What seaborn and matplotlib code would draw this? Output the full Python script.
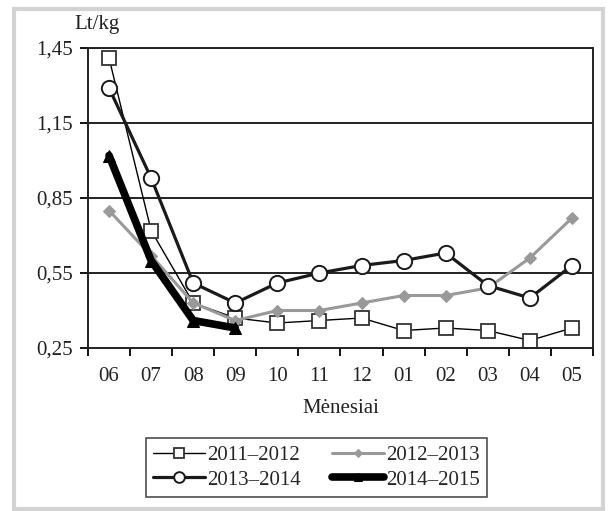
import numpy as np
import pandas as pd
import matplotlib
matplotlib.use("Agg")
import matplotlib.pyplot as plt
from matplotlib.patches import Rectangle
from matplotlib.ticker import FixedLocator, FuncFormatter
import seaborn as sns

# Duomenys
months = ["06", "07", "08", "09", "10", "11", "12", "01", "02", "03", "04", "05"]
s_2011_2012 = [1.41, 0.72, 0.43, 0.37, 0.35, 0.36, 0.37, 0.32, 0.33, 0.32, 0.28, 0.33]
s_2012_2013 = [0.80, 0.62, 0.43, 0.36, 0.40, 0.40, 0.43, 0.46, 0.46, 0.49, 0.61, 0.77]
s_2013_2014 = [1.29, 0.93, 0.51, 0.43, 0.51, 0.55, 0.58, 0.60, 0.63, 0.50, 0.45, 0.58]
s_2014_2015 = [1.02, 0.60, 0.36, 0.33]
y_ticks = [0.25, 0.55, 0.85, 1.15, 1.45]

sns.set_style("white")
plt.rcParams["font.family"] = ["Liberation Serif", "DejaVu Serif"]
FS = 15
plt.rcParams["font.size"] = FS

fig = plt.figure(figsize=(6.12, 5.11), dpi=100)
ax = fig.add_axes([88 / 612, 1 - 348 / 511, (593 - 88) / 612, 300 / 511])

pos = np.arange(len(months))

styles = [
    ("2011–2012", s_2011_2012, dict(color="black", lw=1.0, marker="s", markersize=9.5,
                                    markerfacecolor="white", markeredgecolor="#333333", markeredgewidth=1.3)),
    ("2012–2013", s_2012_2013, dict(color="#999999", lw=2.2, marker="D", markersize=6.5,
                                    markerfacecolor="#999999", markeredgecolor="#999999")),
    ("2013–2014", s_2013_2014, dict(color="#1a1a1a", lw=2.3, marker="o", markersize=11,
                                    markerfacecolor="white", markeredgecolor="#1a1a1a", markeredgewidth=1.4)),
    ("2014–2015", s_2014_2015, dict(color="black", lw=5.5, marker="^", markersize=9,
                                    markerfacecolor="black", markeredgecolor="black")),
]

handles = {}
for name, vals, kw in styles:
    df = pd.DataFrame({"x": pos[:len(vals)], "y": vals})
    sns.lineplot(data=df, x="x", y="y", ax=ax, label=name, **kw)
    handles[name] = ax.lines[-1]

ax.get_legend().remove()

ax.set_ylim(0.25, 1.45)
ax.set_xlim(-0.5, len(months) - 0.5)
ax.set_yticks(y_ticks)
ax.yaxis.set_major_formatter(FuncFormatter(lambda v, p: f"{v:.2f}".replace(".", ",")))
ax.set_xticks(pos)
ax.set_xticklabels(months)
ax.xaxis.set_minor_locator(FixedLocator(np.arange(-0.5, len(months), 1.0)))
ax.tick_params(axis="x", which="major", length=0, pad=14, labelsize=FS, colors="#222222")
ax.tick_params(axis="x", which="minor", length=6, width=1.3, direction="out", color="black", bottom=True)
ax.tick_params(axis="y", which="major", length=6, width=1.3, direction="out", color="black",
               left=True, pad=5, labelsize=FS, labelcolor="#222222")

for v in y_ticks[1:]:
    ax.axhline(v, color="#222222", lw=1.4, zorder=0)

for side in ["left", "right", "bottom", "top"]:
    ax.spines[side].set_visible(True)
    ax.spines[side].set_color("#222222")
    ax.spines[side].set_linewidth(1.4)

ax.set_xlabel("Mėnesiai", fontsize=FS, labelpad=9, color="#222222")
ax.set_ylabel("")
fig.text(97 / 612, 1 - 25 / 511, "Lt/kg", ha="center", va="center", fontsize=FS, color="#222222")

order = ["2011–2012", "2013–2014", "2012–2013", "2014–2015"]
leg = fig.legend([handles[n] for n in order], order, ncol=2, loc="center",
                 bbox_to_anchor=((133 + 500) / 2 / 612, 1 - (433 + 502) / 2 / 511),
                 frameon=True, fancybox=False, edgecolor="#222222", fontsize=FS,
                 handlelength=2.5, columnspacing=1.5, handletextpad=0.1,
                 borderpad=0.35, labelspacing=0.25)
leg.get_frame().set_linewidth(1.2)
for h in leg.legend_handles:
    h.set_markersize(h.get_markersize() * 0.7)

fig.patches.append(Rectangle((14 / 612, 2 / 511), (603 - 14) / 612, (509 - 9) / 511,
                             transform=fig.transFigure, fill=False, edgecolor="#d3d3d3", lw=3))

fig.savefig("out.png", dpi=100)
